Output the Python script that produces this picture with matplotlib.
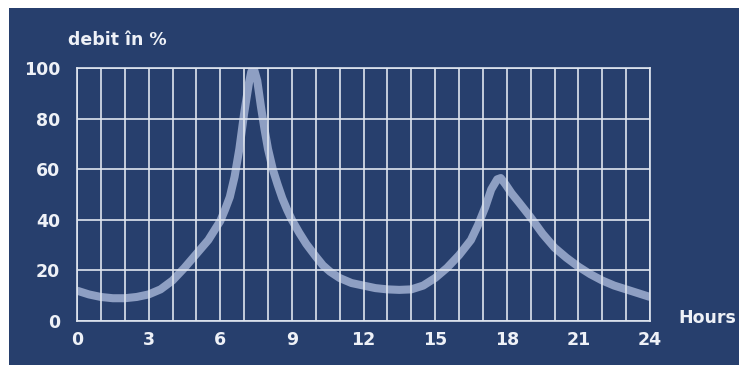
import matplotlib
matplotlib.use("Agg")
import matplotlib.pyplot as plt
from matplotlib.patches import Rectangle

# Data
hours = [0, 0.5, 1, 1.5, 2, 2.5, 3, 3.5, 4, 4.5, 5, 5.5, 6, 6.2, 6.4, 6.6, 6.8, 7.0,
         7.2, 7.3, 7.4, 7.55, 7.7, 7.85, 8.0, 8.2, 8.4, 8.6, 8.8, 9.0, 9.3, 9.6, 10.0,
         10.3, 10.6, 11, 11.5, 12, 12.5, 13, 13.5, 14, 14.5, 15, 15.5, 16, 16.5, 16.8,
         17.1, 17.35, 17.6, 17.75, 17.95, 18.2, 18.5, 19, 19.5, 20, 20.5, 21, 21.5, 22,
         22.5, 23, 23.5, 24]
debit = [12, 10.5, 9.5, 9, 9, 9.5, 10.5, 12.5, 16, 21, 26.5, 32, 39.5, 44, 49, 57, 68, 82,
         94, 98.5, 100, 95, 85, 76, 68, 60, 54, 48.5, 44, 40, 35, 30.5, 25.5,
         22, 19.5, 17, 15, 14, 13, 12.5, 12.3, 12.5, 14, 17, 21, 26, 32, 38,
         45, 52, 56, 56.5, 54, 50.5, 47, 41, 34.5, 29, 25, 21.5, 18.5, 16,
         14, 12.5, 11, 9.5]
x_ticks = [0, 3, 6, 9, 12, 15, 18, 21, 24]
y_ticks = [0, 20, 40, 60, 80, 100]

BG = "#273f6d"
GRID = "#dfe5ef"
CURVE = "#8e9fc3"
TXT = "#eef1f7"

W, H = 739, 365
fig = plt.figure(figsize=(W / 100, H / 100), dpi=100, facecolor="white")
fig.patches.append(Rectangle((9 / W, 0), 1 - 9 / W, 1 - 8 / H, transform=fig.transFigure,
                             facecolor=BG, edgecolor="none", zorder=-5))

ax = fig.add_axes([77 / W, 1 - 321 / H, (650 - 77) / W, (321 - 68) / H])
ax.set_zorder(1)
ax.set_facecolor(BG)
ax.plot(hours, debit, color=CURVE, lw=5.8, solid_capstyle="butt", solid_joinstyle="round", zorder=1)
ax.set_xlim(0, 24)
ax.set_ylim(0, 100)
ax.set_xticks(range(0, 25), minor=True)
ax.set_xticks(x_ticks)
ax.set_yticks(y_ticks)
ax.grid(True, which="both", axis="x", color=GRID, lw=1.2)
ax.grid(True, which="major", axis="y", color=GRID, lw=1.2)
ax.set_axisbelow(False)
for s in ax.spines.values():
    s.set_color(GRID)
    s.set_linewidth(1.2)
    s.set_zorder(3)
ax.tick_params(which="both", length=0, colors=TXT, labelsize=12.5)
ax.tick_params(axis="x", pad=7)
ax.tick_params(axis="y", pad=12)
for lab in ax.get_xticklabels() + ax.get_yticklabels():
    lab.set_fontweight("bold")

fig.text(68 / W, 1 - 45 / H, "debit în %", color=TXT, fontsize=12.5, fontweight="bold",
         ha="left", va="baseline")
fig.text(678 / W, 1 - 318 / H, "Hours", color=TXT, fontsize=12.5, fontweight="bold",
         ha="left", va="center")

fig.savefig("out.png", dpi=100, facecolor="white")
